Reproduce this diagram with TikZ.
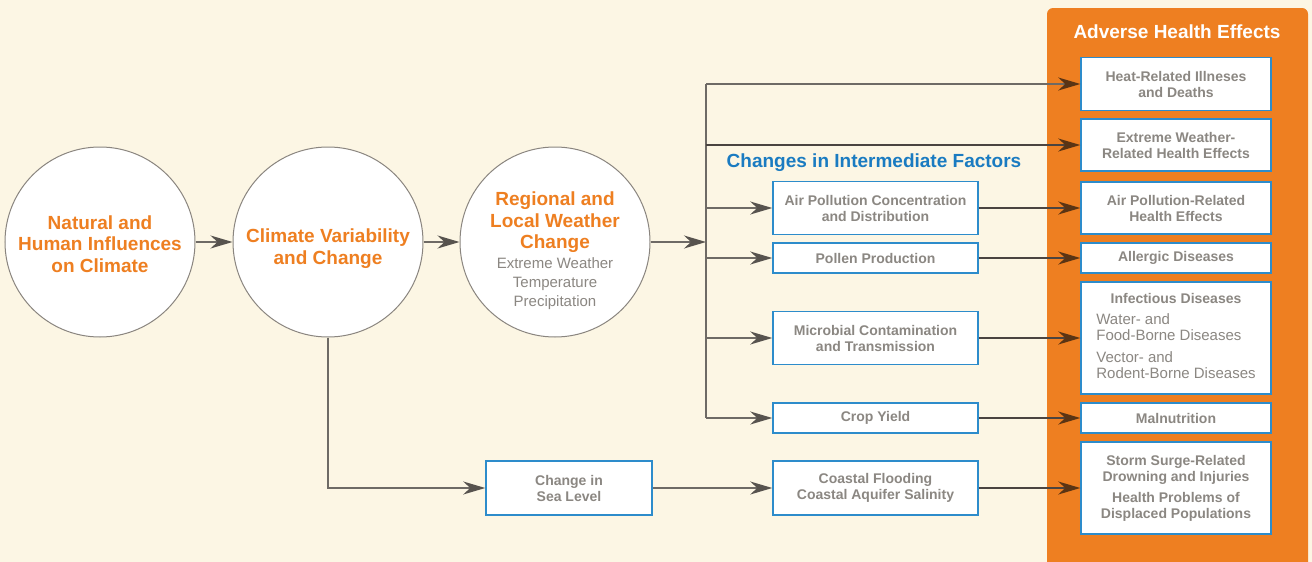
\documentclass[tikz,border=0pt]{standalone}
\usepackage{fontspec}
\setmainfont{Liberation Sans}
\usetikzlibrary{arrows.meta}
\definecolor{cream}{HTML}{FCF6E4}
\definecolor{panelorange}{HTML}{EE7F21}
\definecolor{titleorange}{HTML}{EE7F21}
\definecolor{boxblue}{HTML}{2D8CCB}
\definecolor{titleblue}{HTML}{1A7BC1}
\definecolor{textgray}{HTML}{8B8782}
\definecolor{ringgray}{HTML}{8A857F}
\definecolor{linegray}{HTML}{6E6A65}
\definecolor{darkline}{HTML}{4A4440}
\definecolor{headgray}{HTML}{57534E}
\definecolor{headbrown}{HTML}{5A3414}

\begin{document}
\begin{tikzpicture}[x=1pt,y=-1pt,
  bigcircle/.style={circle,draw=ringgray,line width=1,fill=white,minimum size=190,inner sep=0},
  circletext/.style={align=center,text=titleorange,font=\bfseries\fontsize{19}{21.5}\selectfont},
  factor/.style={rectangle,draw=boxblue,line width=1.5,fill=white,inner sep=0,minimum width=205,
    align=center,text=textgray,font=\bfseries\fontsize{14}{16}\selectfont},
  effect/.style={factor,minimum width=190},
  link/.style={draw=linegray,line width=1.3},
  flow/.style={link,-{Stealth[length=22pt,width=13pt,inset=7pt,color=headgray]}},
  hotflow/.style={draw=darkline,line width=1.6,-{Stealth[length=22pt,width=13pt,inset=7pt,color=headbrown]}}
]
\useasboundingbox (0,0) rectangle (1312,562);
\fill[cream] (0,0) rectangle (1312,562);

% health effects panel
\begin{scope}
\clip (0,0) rectangle (1312,562);
\fill[panelorange,rounded corners=6] (1047,8) rectangle (1308,590);
\end{scope}
\node[text=white,font=\bfseries\fontsize{19}{22}\selectfont] (paneltitle) at (1177,32) {Adverse Health Effects};
\node[text=titleblue,font=\bfseries\fontsize{19}{22}\selectfont] (factortitle) at (874,163) {Changes in Intermediate Factors};

% circles
\node[bigcircle] (influence) at (100,242) {};
\node[bigcircle] (climate) at (328,242) {};
\node[bigcircle] (weather) at (555,242) {};
\node[circletext] (influencetext) at (100,244) {Natural and\\Human Influences\\on Climate};
\node[circletext] (climatetext) at (328,248.5) {Climate Variability\\and Change};
\node[circletext] (weathertext) at (555,251)
  {Regional and\\Local Weather\\Change\\[-1.5pt]
   {\mdseries\color{textgray}\fontsize{15}{19}\selectfont Extreme Weather}\\[-2.5pt]
   {\mdseries\color{textgray}\fontsize{15}{19}\selectfont Temperature}\\[-2.5pt]
   {\mdseries\color{textgray}\fontsize{15}{19}\selectfont Precipitation}};

% intermediate factors
\node[factor,minimum height=53] (airconc) at (875.5,208) {Air Pollution Concentration\\and Distribution};
\node[factor,minimum height=30] (pollen) at (875.5,258) {Pollen Production};
\node[factor,minimum height=53] (microbe) at (875.5,338) {Microbial Contamination\\and Transmission};
\node[factor,minimum height=30] (crop) at (875.5,418) {Crop Yield};
\node[factor,minimum height=54] (coastal) at (875.5,488) {Coastal Flooding\\Coastal Aquifer Salinity};
\node[factor,minimum width=166,minimum height=54] (sealevel) at (569,488) {Change in\\Sea Level};

% health effects
\node[effect,minimum height=53] (heat) at (1176,84) {Heat-Related Illneses\\and Deaths};
\node[effect,minimum height=52] (extreme) at (1176,145) {Extreme Weather-\\Related Health Effects};
\node[effect,minimum height=52] (airfx) at (1176,208) {Air Pollution-Related\\Health Effects};
\node[effect,minimum height=30] (allergic) at (1176,258) {Allergic Diseases};
\node[effect,minimum height=112] (infect) at (1176,338) {\begin{tabular}{@{}l@{}}
  \multicolumn{1}{@{}c@{}}{Infectious Diseases}\\[5pt]
  {\mdseries\fontsize{15}{16}\selectfont Water- and}\\
  {\mdseries\fontsize{15}{16}\selectfont Food-Borne Diseases}\\[6pt]
  {\mdseries\fontsize{15}{16}\selectfont Vector- and}\\
  {\mdseries\fontsize{15}{16}\selectfont Rodent-Borne Diseases}
  \end{tabular}};
\node[effect,minimum height=30] (malnut) at (1176,418) {Malnutrition};
\node[effect,minimum height=92] (storm) at (1176,488) {Storm Surge-Related\\Drowning and Injuries\\[5pt]Health Problems of\\Displaced Populations};

% connectors
\coordinate (split) at (706,242);
\draw[flow] (influence) -- (climate);
\draw[flow] (climate) -- (weather);
\draw[flow] (weather) -- (split);
\draw[link] (split |- heat) -- (split |- crop);
\draw[hotflow,draw=linegray,line width=1.3] (split |- heat) -- (heat);
\draw[hotflow] (split |- extreme) -- (extreme);
\draw[flow] (split |- airconc) -- (airconc);
\draw[flow] (split |- pollen) -- (pollen);
\draw[flow] (split |- microbe) -- (microbe);
\draw[flow] (split |- crop) -- (crop);
\draw[flow] (climate) |- (sealevel);
\draw[flow] (sealevel) -- (coastal);
\draw[hotflow] (airconc) -- (airfx);
\draw[hotflow] (pollen) -- (allergic);
\draw[hotflow] (microbe) -- (infect);
\draw[hotflow] (crop) -- (malnut);
\draw[hotflow] (coastal) -- (storm);
\end{tikzpicture}
\end{document}
